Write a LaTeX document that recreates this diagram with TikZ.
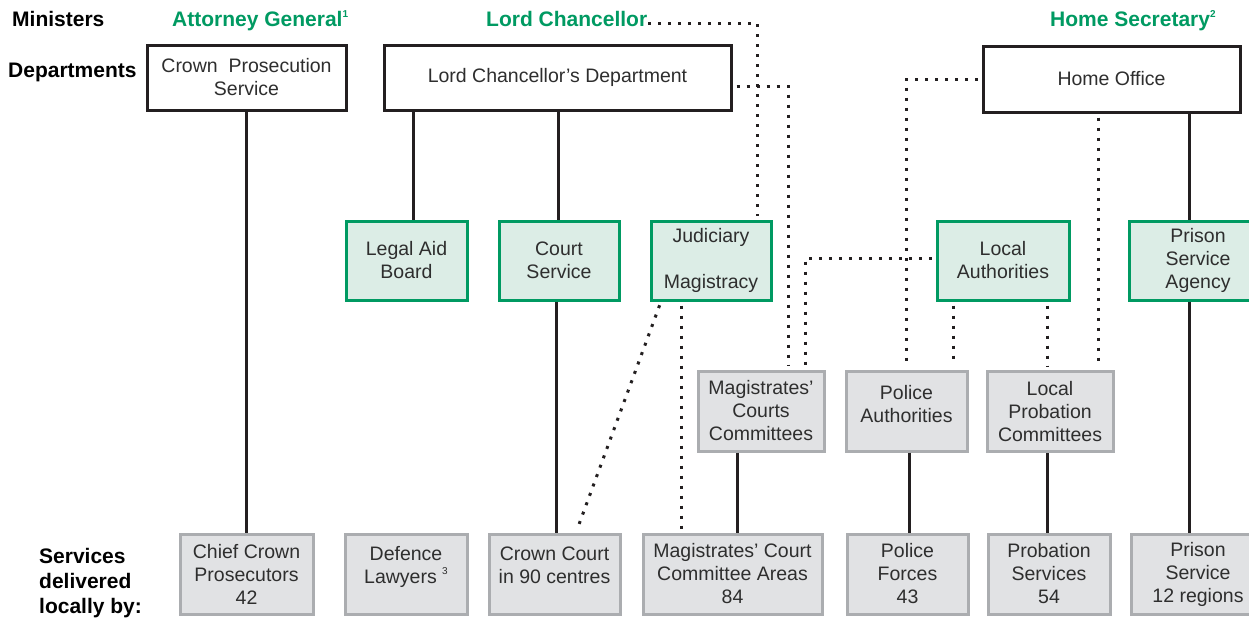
\documentclass[tikz,border=0pt]{standalone}
\usepackage{fontspec}
\setmainfont{Liberation Sans}
\usetikzlibrary{calc}
\definecolor{grn}{HTML}{009A62}
\definecolor{grnfill}{HTML}{DCEDE6}
\definecolor{gryfill}{HTML}{E1E2E4}
\definecolor{grydraw}{HTML}{ABADB0}
\definecolor{blk}{HTML}{231F20}
\definecolor{txt}{HTML}{2E2E2E}
\newcommand\fnmark[1]{\raisebox{9pt}{\fontsize{10}{10}\selectfont #1}}
\begin{document}
\begin{tikzpicture}[x=1pt,y=-1pt,
  boxtext/.style={font=\fontsize{19.5}{23}\selectfont, text=txt, align=center, inner sep=0pt},
  dept/.style={boxtext, draw=blk, line width=3pt, fill=white},
  agency/.style={boxtext, draw=grn, line width=3pt, fill=grnfill},
  localbox/.style={boxtext, draw=grydraw, line width=3pt, fill=gryfill},
  head/.style={font=\fontsize{21}{25}\selectfont\bfseries, inner sep=0pt, text=black},
  minister/.style={head, text=grn},
  solidlink/.style={draw=blk, line width=3pt},
  dotlink/.style={draw=blk, line width=3pt, dash pattern=on 3pt off 7pt, shorten <=4pt, shorten >=4pt},
]
\useasboundingbox[fill=white] (0,0) rectangle (1249,619);

% headings
\node[head, anchor=base west] (min) at (12,26) {Ministers};
\node[minister, anchor=base west] (ag) at (172,26) {Attorney General\fnmark{1}};
\node[minister, anchor=base west] (lc) at (486,26) {Lord Chancellor};
\node[minister, anchor=base west] (hs) at (1050,26) {Home Secretary\fnmark{2}};
\node[head, anchor=base west] (deps) at (8,77) {Departments};
\node[head, anchor=west, align=left] (svc) at (39,583) {Services\\delivered\\locally by:};

% departments
\node[dept, minimum width=199, minimum height=65] (cps) at (246.5,77.5) {Crown~~Prosecution\\Service};
\node[dept, minimum width=347, minimum height=65] (lcd) at (557.5,77.5) {Lord Chancellor's Department};
\node[dept, minimum width=257, minimum height=66] (ho) at (1111.5,79) {Home Office};

% agencies
\node[agency, minimum width=121, minimum height=79] (lab) at (406.5,260.5) {Legal Aid\\Board};
\node[agency, minimum width=120, minimum height=79] (cs) at (559,260.5) {Court\\Service};
\node[agency, minimum width=120, minimum height=79] (jud) at (711,260.5) {Judiciary\\[23pt]Magistracy};
\node[agency, minimum width=132, minimum height=79] (la) at (1003,260.5) {Local\\Authorities};
\node[agency, minimum width=138, minimum height=79] (psa) at (1198,260.5) {Prison\\Service\\Agency};

% committees
\node[localbox, minimum width=126, minimum height=80] (mcc) at (761,411) {Magistrates'\\Courts\\Committees};
\node[localbox, minimum width=121, minimum height=80] (pa) at (906.5,411) {Police\\Authorities\\[-8pt]\mbox{}};
\node[localbox, minimum width=126, minimum height=80] (lpc) at (1050,411.5) {Local\\Probation\\Committees};

% local services
\node[localbox, minimum width=133, minimum height=80] (ccp) at (246.5,574) {Chief Crown\\Prosecutors\\42};
\node[localbox, minimum width=122, minimum height=80] (dl) at (406,574) {Defence\\Lawyers~\fnmark{3}\\[-5pt]\mbox{}};
\node[localbox, minimum width=131, minimum height=80] (cc) at (554.5,574) {Crown Court\\in 90 centres\\[-5pt]\mbox{}};
\node[localbox, minimum width=179, minimum height=80] (mca) at (732.5,574) {Magistrates' Court\\Committee Areas\\84};
\node[localbox, minimum width=121, minimum height=80] (pf) at (907.5,574) {Police\\Forces\\43};
\node[localbox, minimum width=122, minimum height=80] (ps) at (1049,574) {Probation\\Services\\54};
\node[localbox, minimum width=134, minimum height=80] (prs) at (1198,574) {Prison\\Service\\12 regions};

% x / y positions of connectors
\coordinate (xlab) at (413,0);
\coordinate (xcs) at (558,0);
\coordinate (xcc) at (556,0);
\coordinate (xpsa) at (1189,0);
\coordinate (xmcc) at (737,0);
\coordinate (xpa) at (909,0);
\coordinate (xlpc) at (1047,0);
\coordinate (xjud) at (757,0);
\coordinate (xlcd) at (788,0);
\coordinate (xla) at (805,0);
\coordinate (xho) at (906,0);
\coordinate (xlapa) at (953,0);
\coordinate (xlalpc) at (1047,0);
\coordinate (xholpc) at (1098,0);
\coordinate (xdiaga) at (661,0);
\coordinate (xdiagb) at (576,0);
\coordinate (xmca) at (681,0);
\coordinate (ylc) at (0,23);
\coordinate (ylcd) at (0,86);
\coordinate (yla) at (0,258);
\coordinate (yho) at (0,79);

% solid connectors
\draw[solidlink] (cps.south) -- (ccp.north);
\draw[solidlink] (lcd.south -| xlab) -- (lab.north -| xlab);
\draw[solidlink] (lcd.south -| xcs) -- (cs.north -| xcs);
\draw[solidlink] (cs.south -| xcc) -- (cc.north -| xcc);
\draw[solidlink] (ho.south -| xpsa) -- (psa.north -| xpsa);
\draw[solidlink] (psa.south -| xpsa) -- (prs.north -| xpsa);
\draw[solidlink] (mcc.south -| xmcc) -- (mca.north -| xmcc);
\draw[solidlink] (pa.south -| xpa) -- (pf.north -| xpa);
\draw[solidlink] (lpc.south -| xlpc) -- (ps.north -| xlpc);

% dotted connectors
\draw[dotlink, shorten <=1pt] (lc.east |- ylc) -| (jud.north -| xjud);
\draw[dotlink] (lcd.east |- ylcd) -| (mcc.north -| xlcd);
\draw[dotlink] (la.west |- yla) -| (mcc.north -| xla);
\draw[dotlink] (ho.west |- yho) -| (pa.north -| xho);
\draw[dotlink] (la.south -| xlapa) -- (pa.north -| xlapa);
\draw[dotlink] (la.south -| xlalpc) -- (lpc.north -| xlalpc);
\draw[dotlink] (ho.south -| xholpc) -- (lpc.north -| xholpc);
\draw[dotlink] (jud.south -| xdiaga) -- (cc.north -| xdiagb);
\draw[dotlink] (jud.south -| xmca) -- (mca.north -| xmca);
\end{tikzpicture}
\end{document}
